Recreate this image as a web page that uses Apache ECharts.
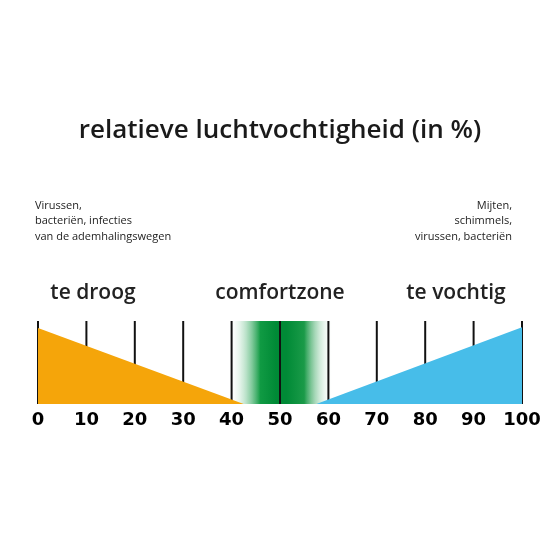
<!DOCTYPE html>
<html><head><meta charset="utf-8">
<script src="https://cdn.jsdelivr.net/npm/echarts@6/dist/echarts.min.js"></script>
<style>html,body{margin:0;background:#fff}#c{width:560px;height:560px}</style></head>
<body><div id="c"></div>
<script>
const ticks = [0,10,20,30,40,50,60,70,80,90,100];
const dryTriangle = [[0,91.5],[42.5,0]];
const wetTriangle = [[57.5,0],[100,92.5]];
const comfortRange = [39.5,61];
const zoneLabels = ['te droog','comfortzone','te vochtig'];
const chart = echarts.init(document.getElementById('c'));
const F = '"Open Sans", sans-serif';
function txt(x,y,text,font,align,lh){return {type:'text',x:x,y:y,style:{text:text,font:font,fill:'#222',align:align,lineHeight:lh}};}
chart.setOption({
  animation:false,
  title:[{text:'relatieve luchtvochtigheid (in %)',left:'center',top:113,textStyle:{fontFamily:F,fontSize:26,fontWeight:600,color:'#1a1a1a'}}],
  graphic:[
    txt(35,198,'Virussen,\nbacteriën, infecties\nvan de ademhalingswegen','11px "Open Sans"','left',15.5),
    txt(512,198,'Mijten,\nschimmels,\nvirussen, bacteriën','11px "Open Sans"','right',15.5),
    txt(93,283,zoneLabels[0],'600 21px "Open Sans"','center'),
    txt(280,283,zoneLabels[1],'600 21px "Open Sans"','center'),
    txt(456,283,zoneLabels[2],'600 21px "Open Sans"','center')
  ],
  grid:{left:38,right:38,top:321,bottom:156},
  xAxis:{type:'value',min:0,max:100,interval:10,
    axisLine:{show:false},axisTick:{show:false},splitLine:{show:false},
    axisLabel:{color:'#000',fontFamily:'DejaVu Sans',fontWeight:900,fontSize:18,margin:7}},
  yAxis:{type:'value',min:0,max:100,show:false},
  series:[
    {type:'custom',z:1,silent:true,data:[comfortRange],renderItem:function(p,api){
      const a=api.coord([api.value(0),100]), b=api.coord([api.value(1),0]);
      return {type:'rect',shape:{x:a[0],y:a[1],width:b[0]-a[0],height:b[1]-a[1]},style:{fill:{type:'linear',x:0,y:0,x2:1,y2:0,colorStops:[
      {offset:0,color:'rgba(255,255,255,0)'},{offset:0.3,color:'#109a43'},{offset:0.45,color:'#008a36'},
      {offset:0.55,color:'#008a36'},{offset:0.72,color:'#1a9a48'},{offset:1,color:'rgba(255,255,255,0)'}]}}};
    }},
    {type:'custom',z:2,silent:true,data:ticks.map(t=>[t]),renderItem:function(p,api){
      const a=api.coord([api.value(0),100]), b=api.coord([api.value(0),0]);
      return {type:'line',shape:{x1:a[0],y1:a[1],x2:b[0],y2:b[1]},style:{stroke:'#111',lineWidth:2}};
    }},
    {type:'line',data:[[0,0],...dryTriangle],symbol:'none',z:3,lineStyle:{width:0},areaStyle:{color:'#f5a50a',opacity:1}},
    {type:'line',data:[...wetTriangle,[100,0]],symbol:'none',z:3,lineStyle:{width:0},areaStyle:{color:'#47bde9',opacity:1}}
  ]
});
</script></body></html>
